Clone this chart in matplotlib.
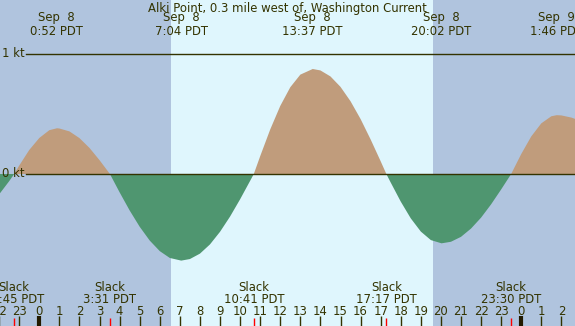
import matplotlib
matplotlib.use("Agg")
import matplotlib.pyplot as plt
import numpy as np

# --- data (hours from Sep 8 00:00 PDT, current speed in knots) ---
hours = [-2.0, -1.5, -1.25, -1.0, -0.5, 0.0, 0.5, 0.883, 1.0, 1.5, 2.0, 2.5, 3.0, 3.517,
         4.0, 4.5, 5.0, 5.5, 6.0, 6.5, 7.067, 7.5, 8.0, 8.5, 9.0, 9.5, 10.0, 10.5, 10.683,
         11.0, 11.5, 12.0, 12.5, 13.0, 13.617, 14.0, 14.5, 15.0, 15.5, 16.0, 16.5, 17.0, 17.283,
         17.5, 18.0, 18.5, 19.0, 19.5, 20.033, 20.5, 21.0, 21.5, 22.0, 22.5, 23.0, 23.5,
         24.0, 24.5, 25.0, 25.5, 25.767, 26.0, 26.5, 27.0]
speed = [-0.17, -0.06, 0.0, 0.07, 0.20, 0.30, 0.365, 0.381, 0.379, 0.355, 0.299, 0.217, 0.115, 0.0,
         -0.153, -0.304, -0.440, -0.555, -0.643, -0.700, -0.722, -0.709, -0.664, -0.587, -0.482, -0.355, -0.211, -0.057, 0.0,
         0.148, 0.371, 0.567, 0.723, 0.828, 0.875, 0.863, 0.813, 0.726, 0.606, 0.458, 0.288, 0.106, 0.0,
         -0.071, -0.230, -0.370, -0.480, -0.551, -0.578, -0.565, -0.524, -0.455, -0.364, -0.253, -0.129, 0.0,
         0.166, 0.313, 0.422, 0.481, 0.490, 0.488, 0.470, 0.440]

event_hours = [0.867, 7.067, 13.617, 20.033, 25.767]
event_dates = ["Sep  8", "Sep  8", "Sep  8", "Sep  8", "Sep  9"]
event_times = ["0:52 PDT", "7:04 PDT", "13:37 PDT", "20:02 PDT", "1:46 PDT"]

slack_hours = [-1.25, 3.517, 10.683, 17.283, 23.5]
slack_times = ["22:45 PDT", "3:31 PDT", "10:41 PDT", "17:17 PDT", "23:30 PDT"]

sunrise = 6.583
sunset = 19.583
title = "Alki Point, 0.3 mile west of, Washington Current"

# --- styling ---
night_col = "#b0c4de"
day_col = "#dff6fd"
flood_col = "#c09c7c"
ebb_col = "#4f9670"
ink = "#333300"
fs = 8.4

fig = plt.figure(figsize=(5.75, 3.26), dpi=100)
ax = fig.add_axes([0, 0, 1, 1])
x0, x1 = -1.957, 26.678
y0, y1 = -1.267, 1.45
ax.set_xlim(x0, x1)
ax.set_ylim(y0, y1)
ax.axis("off")

ax.axvspan(x0, x1, color=day_col, zorder=0)
ax.axvspan(x0, sunrise, color=night_col, zorder=0.5, lw=0)
ax.axvspan(sunset, x1, color=night_col, zorder=0.5, lw=0)

h = np.array(hours)
s = np.array(speed)
ax.fill_between(h, s, 0, where=s >= 0, interpolate=True, color=flood_col, lw=0, zorder=1)
ax.fill_between(h, s, 0, where=s <= 0, interpolate=True, color=ebb_col, lw=0, zorder=1)

# kt reference lines
xl = x0 + 26 / 20.08
ax.plot([xl, x1], [0, 0], color=ink, lw=1.0, zorder=2)
ax.plot([xl, x1], [1, 1], color=ink, lw=1.0, zorder=2)
ax.text(x0 + 2 / 20.08, 0, "0 kt", color=ink, fontsize=fs, va="center", ha="left", zorder=3)
ax.text(x0 + 2 / 20.08, 1, "1 kt", color=ink, fontsize=fs, va="center", ha="left", zorder=3)

# title
ax.text(0.5 * (x0 + x1) + 0.0, 1.383, title, color=ink, fontsize=fs, ha="center", va="center", zorder=3)

# event labels
for eh, d, t in zip(event_hours, event_dates, event_times):
    ax.text(eh, 1.30, d, color=ink, fontsize=fs, ha="center", va="center", zorder=3)
    ax.text(eh, 1.19, t, color=ink, fontsize=fs, ha="center", va="center", zorder=3)

# slack labels
for sh, t in zip(slack_hours, slack_times):
    ax.text(sh, -0.945, "Slack", color=ink, fontsize=fs, ha="center", va="center", zorder=3)
    ax.text(sh, -1.045, t, color=ink, fontsize=fs, ha="center", va="center", zorder=3)
    ax.plot([sh, sh], [-1.20, y1 * 0 + y0], color="#ff0000", lw=1.0, zorder=3, solid_capstyle="butt")

# hour ticks
for hr in range(-2, 28):
    lab = str(hr % 24)
    ax.text(hr, -1.142, lab, color=ink, fontsize=fs, ha="center", va="center", zorder=3)
    lw = 3.0 if hr % 24 == 0 else 1.0
    ax.plot([hr, hr], [-1.186, y0], color=ink if lw < 2 else "#221a00", lw=lw, zorder=3,
            solid_capstyle="butt")

fig.savefig("out.png", dpi=100)
